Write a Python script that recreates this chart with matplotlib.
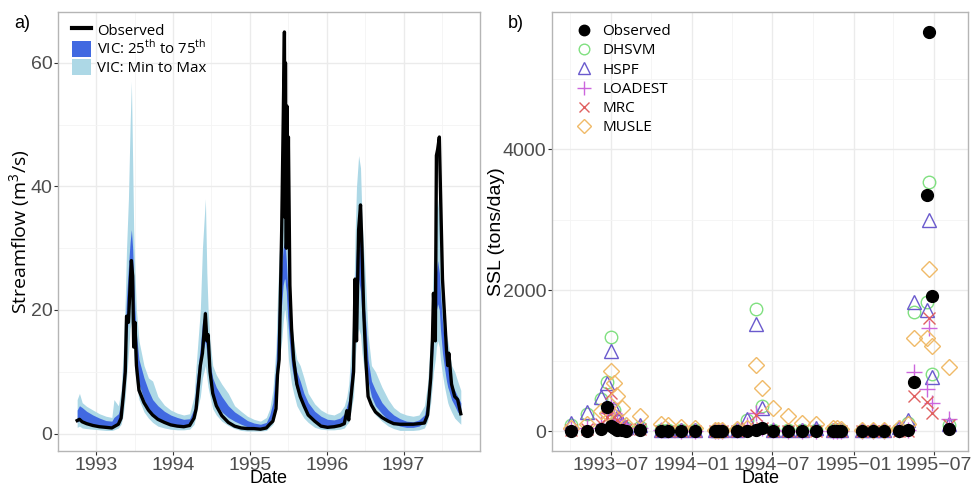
import numpy as np
import pandas as pd
import matplotlib
matplotlib.use('Agg')
import matplotlib.pyplot as plt
import matplotlib.dates as mdates
from matplotlib.lines import Line2D
from matplotlib.patches import Patch

plt.rcParams['mathtext.fontset'] = 'custom'
plt.rcParams['mathtext.rm'] = 'Open Sans'

# ---- a) streamflow, read off the hydrograph ----
flow_dates = [
    "1992-10-01", "1992-10-12", "1992-10-25", "1992-11-15", "1992-12-15",
    "1993-01-15", "1993-02-15", "1993-03-15", "1993-03-25", "1993-04-15",
    "1993-04-28", "1993-05-08", "1993-05-18", "1993-05-24", "1993-06-02",
    "1993-06-10", "1993-06-16", "1993-06-22", "1993-06-27", "1993-07-03",
    "1993-07-10", "1993-07-22", "1993-08-15", "1993-09-05", "1993-09-25",
    "1993-10-20", "1993-11-20", "1993-12-20",
    "1994-01-20", "1994-02-20", "1994-03-20", "1994-04-10", "1994-04-20",
    "1994-05-10", "1994-05-20", "1994-06-03", "1994-06-10", "1994-06-16",
    "1994-06-25", "1994-07-08", "1994-07-25", "1994-08-20", "1994-09-20",
    "1994-10-20", "1994-11-20", "1994-12-20",
    "1995-01-20", "1995-02-20", "1995-03-20", "1995-04-05", "1995-04-20",
    "1995-05-05", "1995-05-12", "1995-05-20", "1995-06-01", "1995-06-08",
    "1995-06-14", "1995-06-17", "1995-06-19", "1995-06-23", "1995-06-26",
    "1995-06-29", "1995-07-03", "1995-07-10", "1995-07-18", "1995-07-28",
    "1995-08-12", "1995-08-28", "1995-09-15", "1995-10-05", "1995-11-05",
    "1995-12-05",
    "1996-01-05", "1996-02-05", "1996-03-05", "1996-03-25", "1996-04-06",
    "1996-04-15", "1996-05-08", "1996-05-15", "1996-05-22", "1996-06-01",
    "1996-06-10", "1996-06-17", "1996-06-25", "1996-07-05", "1996-07-16",
    "1996-08-01", "1996-08-20", "1996-09-20", "1996-10-20", "1996-11-15",
    "1996-12-15",
    "1997-01-15", "1997-02-15", "1997-03-15", "1997-04-10", "1997-04-25",
    "1997-05-10", "1997-05-18", "1997-05-23", "1997-06-01", "1997-06-06",
    "1997-06-12", "1997-06-20", "1997-06-25", "1997-07-05", "1997-07-15",
    "1997-07-24", "1997-07-30", "1997-08-04", "1997-08-17", "1997-09-01",
    "1997-09-15", "1997-09-30",
]
obs_flow = [
    2.1, 2.3, 1.9, 1.6, 1.3, 1.1, 1.0, 0.9, 1.1, 1.5,
    2.5, 6.0, 10.0, 19.0, 18.0, 24.0, 28.0, 25.5, 14.0, 18.0,
    11.0, 7.0, 5.0, 3.8, 3.0, 2.3, 1.8, 1.4,
    1.2, 1.1, 1.3, 2.5, 4.0, 11.0, 13.0, 19.4, 15.0, 16.0,
    10.0, 6.5, 4.5, 2.9, 1.8, 1.2, 0.9, 0.8,
    0.8, 0.7, 0.9, 1.5, 2.0, 4.0, 9.5, 12.0, 33.0, 50.0,
    65.0, 35.0, 60.0, 30.0, 53.0, 32.0, 48.0, 24.0, 17.0, 12.0,
    8.0, 6.0, 4.5, 3.0, 2.0, 1.2,
    1.0, 1.1, 1.3, 1.6, 3.7, 2.2, 10.0, 25.0, 15.0, 33.0,
    37.0, 30.0, 20.0, 12.0, 6.0, 4.6, 3.5, 2.6, 2.0, 1.6,
    1.5,
    1.5, 1.5, 1.6, 1.7, 3.0, 9.0, 15.0, 22.7, 15.0, 45.0,
    46.0, 48.0, 40.0, 25.0, 19.0, 13.5, 11.0, 13.0, 8.0, 6.0,
    5.5, 3.2,
]
vic_min = [
    1.0, 1.2, 0.9, 0.8, 0.7, 0.6, 0.5, 0.5, 0.6, 0.9,
    1.5, 3.0, 6.0, 9.0, 13.0, 17.0, 18.0, 16.0, 13.0, 10.0,
    8.0, 5.5, 3.5, 2.5, 1.8, 1.2, 0.9, 0.7,
    0.6, 0.6, 0.7, 1.5, 3.0, 6.0, 9.0, 11.0, 9.0, 7.5,
    6.0, 4.0, 3.0, 2.0, 1.3, 0.8, 0.5, 0.4,
    0.4, 0.4, 0.5, 1.0, 1.5, 4.0, 8.0, 12.0, 15.0, 18.0,
    20.0, 20.0, 19.0, 18.0, 16.0, 14.0, 12.0, 10.0, 8.0, 6.5,
    4.5, 3.5, 2.5, 1.8, 1.0, 0.7,
    0.6, 0.6, 0.7, 0.9, 1.5, 1.8, 6.0, 12.0, 15.0, 17.0,
    16.0, 13.0, 11.0, 9.0, 6.0, 4.0, 3.0, 2.0, 1.2, 0.8,
    0.5,
    0.5, 0.5, 0.6, 0.9, 2.0, 5.0, 8.0, 10.0, 12.0, 14.0,
    15.0, 14.0, 12.0, 9.5, 7.5, 6.0, 5.0, 4.5, 3.5, 2.5,
    2.0, 1.5,
]
vic_q25 = [
    1.8, 2.2, 1.8, 1.6, 1.3, 1.1, 1.0, 1.0, 1.3, 1.8,
    3.0, 6.0, 11.0, 15.0, 19.0, 23.0, 24.0, 22.0, 18.0, 14.0,
    11.0, 8.0, 5.5, 4.0, 3.2, 2.5, 2.0, 1.6,
    1.3, 1.2, 1.3, 2.5, 5.0, 10.0, 13.0, 15.0, 13.0, 11.0,
    8.5, 6.0, 4.8, 3.5, 2.6, 2.0, 1.5, 1.1,
    0.9, 0.8, 1.0, 1.8, 3.0, 7.0, 12.0, 17.0, 21.0, 24.0,
    25.0, 25.0, 24.0, 23.0, 21.0, 19.0, 17.0, 14.0, 11.0, 9.0,
    7.0, 5.5, 4.0, 3.0, 2.0, 1.5,
    1.2, 1.2, 1.4, 1.8, 2.8, 3.5, 10.0, 18.0, 22.0, 25.0,
    23.0, 19.0, 16.0, 13.0, 8.5, 6.0, 4.5, 3.2, 2.2, 1.6,
    1.2,
    1.0, 1.0, 1.2, 1.8, 3.5, 8.0, 12.0, 15.0, 18.0, 20.0,
    21.0, 20.0, 17.0, 13.0, 10.5, 8.5, 7.5, 7.0, 5.5, 4.5,
    3.5, 3.0,
]
vic_q75 = [
    3.8, 4.5, 4.2, 3.6, 3.0, 2.5, 2.1, 2.0, 2.6, 3.2,
    5.0, 10.0, 17.0, 22.0, 27.0, 31.0, 33.0, 30.0, 25.0, 20.0,
    16.0, 12.0, 9.0, 7.0, 5.5, 4.5, 3.6, 3.0,
    2.6, 2.3, 2.4, 4.0, 8.0, 14.0, 18.0, 20.0, 17.0, 14.5,
    11.5, 9.0, 7.5, 6.0, 4.5, 3.5, 2.8, 2.1,
    1.7, 1.5, 1.8, 3.0, 5.0, 11.0, 17.0, 23.0, 27.0, 30.0,
    31.0, 30.0, 30.0, 28.0, 26.0, 24.0, 22.0, 18.0, 15.0, 12.5,
    10.0, 8.5, 6.5, 5.0, 3.6, 2.8,
    2.3, 2.2, 2.5, 3.2, 4.5, 5.5, 15.0, 25.0, 30.0, 33.0,
    31.0, 26.0, 22.0, 18.0, 12.0, 8.5, 7.0, 5.0, 3.8, 3.0,
    2.4,
    2.0, 1.9, 2.2, 3.0, 5.5, 12.0, 17.0, 21.0, 24.0, 26.0,
    28.0, 26.0, 23.0, 18.0, 14.5, 12.0, 11.0, 10.0, 8.0, 7.0,
    6.0, 5.0,
]
vic_max = [
    5.5, 6.5, 5.0, 4.4, 3.8, 3.2, 2.8, 2.6, 5.5, 4.5,
    7.0, 13.0, 22.0, 30.0, 38.0, 50.0, 57.0, 44.0, 33.0, 26.0,
    20.0, 15.0, 11.0, 9.0, 8.5, 6.0, 4.6, 3.8,
    3.3, 3.0, 3.2, 6.0, 11.0, 20.0, 30.0, 38.0, 26.0, 20.0,
    15.0, 11.0, 9.5, 8.0, 6.5, 4.5, 3.6, 2.8,
    2.3, 2.0, 2.6, 4.0, 7.0, 14.0, 22.0, 29.0, 35.0, 38.0,
    40.0, 39.0, 38.0, 36.0, 33.0, 30.0, 27.0, 22.0, 18.0, 15.0,
    12.0, 11.0, 9.0, 6.5, 4.8, 3.8,
    3.2, 3.0, 3.5, 4.5, 6.0, 8.0, 20.0, 32.0, 40.0, 45.0,
    43.0, 35.0, 30.0, 24.0, 16.0, 11.0, 10.0, 7.5, 5.5, 4.2,
    3.4,
    3.0, 2.8, 3.0, 4.5, 8.0, 16.0, 23.0, 28.0, 33.0, 36.0,
    38.0, 35.0, 30.0, 24.0, 19.0, 16.0, 15.0, 14.0, 11.0, 10.0,
    8.5, 7.0,
]

# ---- b) suspended sediment load (tons/day) ----
ssl_dates = [
    "1993-04-02", "1993-05-08", "1993-06-08", "1993-06-22", "1993-07-01",
    "1993-07-08", "1993-07-15", "1993-07-26", "1993-08-04", "1993-09-05",
    "1993-10-22", "1993-11-07", "1993-12-08", "1994-01-07", "1994-02-21",
    "1994-02-28", "1994-03-09", "1994-04-12", "1994-05-04", "1994-05-25",
    "1994-06-09", "1994-07-02", "1994-08-05", "1994-09-06", "1994-10-07",
    "1994-11-15", "1994-11-24", "1994-12-04", "1995-01-21", "1995-02-13",
    "1995-03-10", "1995-04-13", "1995-05-05", "1995-05-17", "1995-06-15",
    "1995-06-20", "1995-06-28", "1995-08-05",
]
ssl_obs = [
    0, 0, 35, 340, 70, 40, 20, 10, 5, 10,
    0, 0, 0, 0, 0, 0, 0, 0, 0, 10,
    50, 0, 0, 0, 0, 0, 0, 0, 0, 0,
    0, 0, 20, 690, 3350, 5660, 1920, 30,
]
ssl_dhsvm = [
    80, 240, 450, 700, 1330, 300, 150, 80, 40, 60,
    10, 10, 10, 10, 5, 5, 5, 10, 150, 1730,
    355, 20, 10, 10, 20, 10, 10, 10, 5, 5,
    5, 30, 120, 1690, 1830, 3530, 810, 80,
]
ssl_hspf = [
    120, 270, 490, 680, 1130, 330, 200, 120, 60, 80,
    20, 20, 10, 10, 10, 10, 10, 20, 170, 1515,
    330, 20, 20, 20, 50, 20, 20, 10, 10, 10,
    10, 60, 150, 1830, 1720, 3000, 770, 100,
]
ssl_loadest = [
    30, 50, 100, 250, 400, 250, 150, 100, 40, 40,
    10, 10, 5, 5, 5, 5, 5, 10, 80, 250,
    40, 10, 5, 5, 5, 5, 5, 5, 5, 5,
    5, 10, 10, 840, 590, 1460, 400, 170,
]
ssl_mrc = [
    20, 30, 100, 200, 540, 200, 160, 80, 30, 30,
    5, 5, 5, 5, 5, 5, 5, 5, 40, 230,
    40, 5, 5, 5, 5, 5, 5, 5, 5, 5,
    5, 5, 0, 500, 410, 1600, 260, 80,
]
ssl_musle = [
    40, 100, 280, 250, 850, 680, 500, 330, 80, 210,
    100, 90, 60, 50, 20, 20, 20, 30, 40, 935,
    610, 325, 210, 115, 100, 40, 40, 30, 20, 20,
    20, 40, 100, 1320, 1320, 2300, 1205, 910,
]

fd = pd.to_datetime(flow_dates)
sd = pd.to_datetime(ssl_dates)

tick_col = "#4D4D4D"
grid_major = "#EBEBEB"
grid_minor = "#F4F4F4"
frame_col = "#B5B5B5"


def style_axes(ax):
    ax.set_facecolor("white")
    ax.grid(True, which="major", color=grid_major, linewidth=1.0, zorder=0)
    ax.grid(True, which="minor", color=grid_minor, linewidth=0.6, zorder=0)
    ax.set_axisbelow(True)
    for sp in ax.spines.values():
        sp.set_color(frame_col)
        sp.set_linewidth(1.0)
    ax.tick_params(which="major", colors="#333333", labelcolor=tick_col,
                   length=3, width=0.8, labelsize=14, pad=1.0)
    ax.tick_params(which="minor", length=0)
    for lab in ax.get_xticklabels() + ax.get_yticklabels():
        lab.set_family("Liberation Sans")


fig = plt.figure(figsize=(9.71, 4.87), dpi=100)
ax1 = fig.add_axes([0.0597, 0.0739, 0.4346, 0.9014])
ax2 = fig.add_axes([0.5685, 0.0739, 0.4284, 0.9014])

# panel a
ax1.fill_between(fd, vic_min, vic_max, color="#ADD8E6", linewidth=0, zorder=2)
ax1.fill_between(fd, vic_q25, vic_q75, color="#4169E1", linewidth=0, zorder=3)
ax1.plot(fd, obs_flow, color="black", linewidth=2.4, zorder=4)

span = fd.max() - fd.min()
ax1.set_xlim(fd.min() - span * 0.05, fd.max() + span * 0.05)
lo, hi = min(vic_min), max(obs_flow)
ax1.set_ylim(lo - 0.05 * (hi - lo), hi + 0.05 * (hi - lo))
ax1.xaxis.set_major_locator(mdates.YearLocator())
ax1.xaxis.set_minor_locator(mdates.MonthLocator(bymonth=7))
ax1.xaxis.set_major_formatter(mdates.DateFormatter("%Y"))
ax1.set_yticks([0, 20, 40, 60])
ax1.set_yticks([10, 30, 50], minor=True)
style_axes(ax1)
ax1.set_xlabel("Date", fontsize=13, family="Liberation Sans", labelpad=-2.5)
ax1.set_ylabel("Streamflow (m$^3$/s)", fontsize=14, family="Open Sans")
ax1.yaxis.set_label_coords(-0.06, 0.5)

h1 = [Line2D([], [], color="black", linewidth=3),
      Patch(facecolor="#4169E1", edgecolor="none"),
      Patch(facecolor="#ADD8E6", edgecolor="none")]
l1 = ["Observed", r"VIC: 25$^{\mathrm{th}}$ to 75$^{\mathrm{th}}$", "VIC: Min to Max"]
ax1.legend(h1, l1, loc="upper left", bbox_to_anchor=(0.022, 0.988), frameon=False,
           prop={"family": "Open Sans", "size": 10.8},
           handlelength=1.3, handleheight=1.25, handletextpad=0.4,
           labelspacing=0.05, borderaxespad=0.0, borderpad=0.3)

# panel b
models = [
    ("DHSVM", ssl_dhsvm, "o", "#80E080", 9),
    ("HSPF", ssl_hspf, "^", "#6A5ACD", 10),
    ("LOADEST", ssl_loadest, "+", "#CC66DD", 12),
    ("MRC", ssl_mrc, "x", "#E06060", 9),
    ("MUSLE", ssl_musle, "D", "#F0BA68", 8),
]
handles = []
for name, vals, mk, col, ms in models:
    ax2.plot(sd, vals, linestyle="none", marker=mk, markersize=ms,
             markerfacecolor="none", markeredgecolor=col, markeredgewidth=1.0,
             zorder=3)
    handles.append(Line2D([], [], linestyle="none", marker=mk, markersize=ms * 0.85,
                          markerfacecolor="none", markeredgecolor=col,
                          markeredgewidth=1.0, label=name))
ax2.plot(sd, ssl_obs, linestyle="none", marker="o", markersize=8.5,
         color="black", zorder=4)
handles.insert(0, Line2D([], [], linestyle="none", marker="o", markersize=7.5,
                         color="black", label="Observed"))

span2 = sd.max() - sd.min()
ax2.set_xlim(sd.min() - span2 * 0.05, sd.max() + span2 * 0.05)
top = max(ssl_obs)
ax2.set_ylim(-0.05 * top, 1.05 * top)
ax2.xaxis.set_major_locator(mdates.MonthLocator(bymonth=[1, 7]))
ax2.xaxis.set_minor_locator(mdates.MonthLocator(bymonth=[4, 10]))
ax2.xaxis.set_major_formatter(mdates.DateFormatter("%Y\u2212%m"))
ax2.set_yticks([0, 2000, 4000])
ax2.set_yticks([1000, 3000, 5000], minor=True)
style_axes(ax2)
ax2.set_xlabel("Date", fontsize=13, family="Liberation Sans", labelpad=-2.5)
ax2.set_ylabel("SSL (tons/day)", fontsize=14, family="Liberation Sans")
ax2.yaxis.set_label_coords(-0.112, 0.5)
ax2.legend(handles=handles, loc="upper left", bbox_to_anchor=(0.045, 0.983),
           frameon=False, prop={"family": "Open Sans", "size": 11},
           handlelength=1.2, handletextpad=0.55, labelspacing=0.28,
           borderaxespad=0.0, borderpad=0.3)

fig.text(0.015, 0.951, "a)", fontsize=13, family="Liberation Sans", va="center")
fig.text(0.523, 0.951, "b)", fontsize=13, family="Liberation Sans", va="center")

fig.savefig("out.png", dpi=100)
